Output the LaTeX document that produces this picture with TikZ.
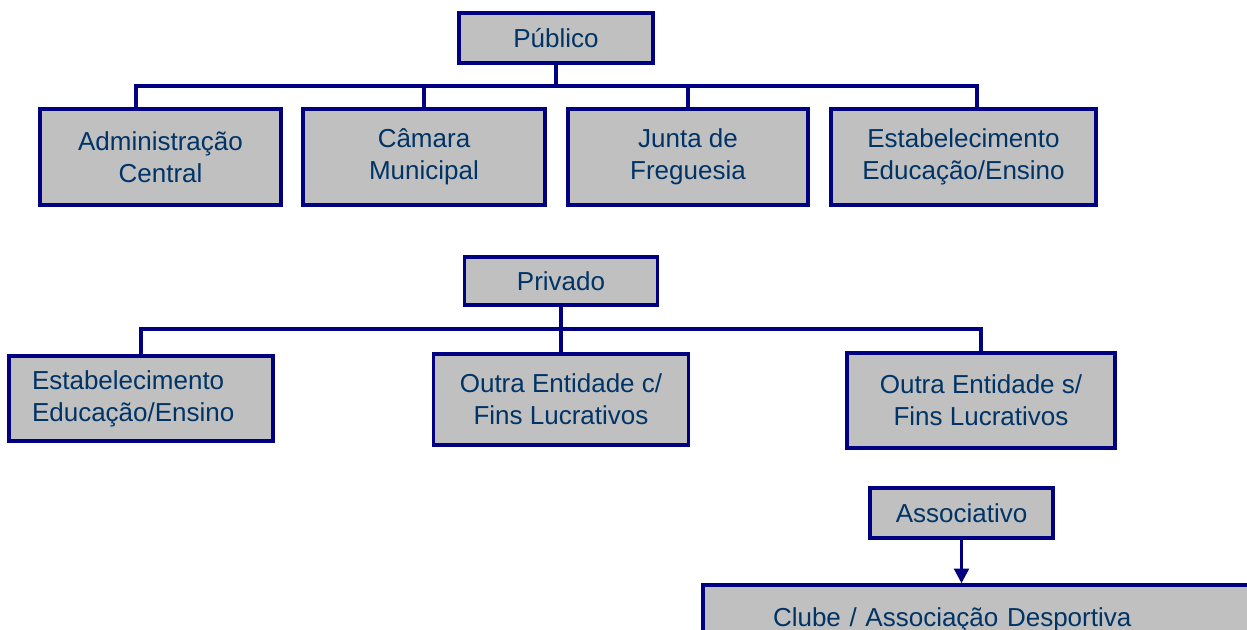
\documentclass[tikz,border=0pt]{standalone}
\usepackage{fontspec}
\setmainfont{Liberation Sans}
\usetikzlibrary{arrows.meta}
\definecolor{navy}{HTML}{000080}
\definecolor{boxgray}{HTML}{C0C0C0}
\definecolor{txtblue}{HTML}{003366}
\begin{document}
\begin{tikzpicture}[x=0.75pt,y=-0.75pt,
  box/.style={draw=navy, fill=boxgray, line width=2.6pt, text=txtblue,
    font=\fontsize{19.5pt}{24pt}\selectfont, align=center, inner sep=0pt},
  sz/.style 2 args={minimum width=#1*0.75pt, minimum height=#2*0.75pt},
  conn/.style={draw=navy, line width=2.4pt}]
\path[use as bounding box, clip] (0,0) rectangle (1247,629);

% Publico branch
\node[box, sz={194}{50}] (pub) at (556,38) {Público};
\node[box, sz={241}{96}] (adm) at (160.5,157) {Administração\\Central};
\node[box, sz={242}{96}] (cam) at (424,157) {Câmara\\Municipal};
\node[box, sz={240}{96}] (jun) at (688,157) {Junta de\\Freguesia};
\node[box, sz={265}{96}] (est1) at (963.5,157) {Estabelecimento\\Educação/Ensino};

\coordinate (pbl) at (136,86);
\coordinate (pbr) at (977,86);
\draw[conn] (pub.south) -- (pub.south |- pbl);
\draw[conn] (pbl |- adm.north) -- (pbl) -- (pbr) -- (pbr |- est1.north);
\draw[conn] (cam.north) -- (cam.north |- pbl);
\draw[conn] (jun.north) -- (jun.north |- pbl);

% Privado branch
\node[box, sz={193}{48}] (priv) at (561,281) {Privado};
\node[box, sz={264}{85}, align=left, text width={(264-46)*0.75pt}] (est2) at (141,398.5) {Estabelecimento\\Educação/Ensino};
\node[box, sz={255}{91}] (outc) at (561,399.5) {Outra Entidade c/\\Fins Lucrativos};
\node[box, sz={268}{95}] (outs) at (981,400.5) {Outra Entidade s/\\Fins Lucrativos};

\coordinate (qbus) at (561,329);
\draw[conn] (priv.south) -- (outc.north);
\draw[conn] (est2.north) -- (est2.north |- qbus) -- (outs.north |- qbus) -- (outs.north);

% Associativo
\node[box, sz={183}{50}] (assoc) at (961.5,513) {Associativo};
\node[box, sz={600}{70}, align=left, text width={(600-140)*0.75pt}] (clube) at (1003,620) {Clube / Associação Desportiva};
\draw[conn, -{Triangle[length=11pt,width=11pt]}] (assoc.south) -- (assoc.south |- clube.north);
\end{tikzpicture}
\end{document}
